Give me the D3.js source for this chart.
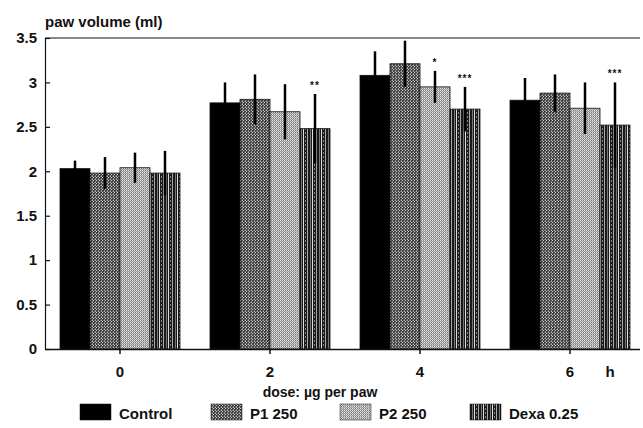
<!DOCTYPE html>
<html><head><meta charset="utf-8">
<script src="https://cdn.jsdelivr.net/npm/d3@7"></script>
<style>body{margin:0;background:#fff}svg{display:block}text{font-family:"Liberation Sans",Arial,sans-serif;font-weight:bold;fill:#111}</style>
</head><body><svg id="c" width="643" height="428"></svg>
<script>
const hours = ["0","2","4","6"];
const series = ["Control","P1 250","P2 250","Dexa 0.25"];
const means = {
  "Control":  [2.03, 2.77, 3.08, 2.80],
  "P1 250":   [1.98, 2.81, 3.21, 2.88],
  "P2 250":   [2.04, 2.67, 2.95, 2.71],
  "Dexa 0.25":[1.98, 2.48, 2.70, 2.52]
};
const errs = {
  "Control":  [0.09, 0.23, 0.27, 0.25],
  "P1 250":   [0.18, 0.28, 0.26, 0.21],
  "P2 250":   [0.17, 0.31, 0.18, 0.29],
  "Dexa 0.25":[0.25, 0.39, 0.25, 0.48]
};
const stars = [
  {hour:"2", s:"Dexa 0.25", t:"**"},
  {hour:"4", s:"P2 250", t:"*"},
  {hour:"4", s:"Dexa 0.25", t:"***"},
  {hour:"6", s:"Dexa 0.25", t:"***"}
];
const yTicks = [0,0.5,1,1.5,2,2.5,3,3.5];

const svg = d3.select("#c");
const defs = svg.append("defs");
function pat(id,w,h,bg,cells){
  const p = defs.append("pattern").attr("id",id).attr("patternUnits","userSpaceOnUse").attr("width",w).attr("height",h);
  p.append("rect").attr("width",w).attr("height",h).attr("fill",bg);
  cells.forEach(c=>p.append("rect").attr("x",c[0]).attr("y",c[1]).attr("width",c[2]).attr("height",c[3]).attr("fill",c[4]));
}
pat("pP1",3,3,"#404040",[[0,0,1,1,"#cfcfcf"],[2,1,1,1,"#8a8a8a"],[1,2,1,1,"#6a6a6a"],[2,2,1,1,"#b0b0b0"]]);
pat("pP2",2,2,"#9a9a9a",[[0,0,1,1,"#e6e6e6"],[1,1,1,1,"#c2c2c2"],[1,0,1,1,"#7a7a7a"]]);
pat("pDX",9,4,"#1a1a1a",[[1,0,1,4,"#aaa"],[4,0,1,4,"#777"],[6,0,1,4,"#ddd"],[8,0,1,2,"#888"]]);
const fills = {"Control":"#000","P1 250":"url(#pP1)","P2 250":"url(#pP2)","Dexa 0.25":"url(#pDX)"};

const x = d3.scaleBand().domain(hours).range([45,645]).paddingInner(0.2).paddingOuter(0.1);
const xs = d3.scaleBand().domain(series).range([0,x.bandwidth()]);
const y = d3.scaleLinear().domain([0,3.5]).range([349,38]);

const g = svg.append("g");
hours.forEach((h,i)=>{
  series.forEach(s=>{
    g.append("rect").attr("x",x(h)+xs(s)).attr("y",y(means[s][i]))
      .attr("width",xs.bandwidth()).attr("height",y(0)-y(means[s][i]))
      .attr("fill",fills[s]).attr("stroke","#111").attr("stroke-width",0.8);
  });
});
hours.forEach((h,i)=>{
  series.forEach(s=>{
    const cx = x(h)+xs(s)+xs.bandwidth()/2;
    g.append("line").attr("x1",cx).attr("x2",cx)
      .attr("y1",y(means[s][i]+errs[s][i])).attr("y2",y(means[s][i]-errs[s][i]))
      .attr("stroke","#000").attr("stroke-width",2.5);
  });
});
stars.forEach(d=>{
  const i = hours.indexOf(d.hour);
  const cx = x(d.hour)+xs(d.s)+xs.bandwidth()/2;
  svg.append("text").attr("x",cx).attr("y",y(means[d.s][i]+errs[d.s][i])-5)
    .attr("text-anchor","middle").attr("font-size",10).attr("letter-spacing",1).text(d.t);
});

const yAxis = d3.axisLeft(y).tickValues(yTicks).tickSizeInner(-5).tickSizeOuter(0).tickPadding(8)
  .tickFormat(d=>String(d));
const ya = svg.append("g").attr("transform","translate(45,0)").call(yAxis);
ya.selectAll("text").attr("font-size",15).style("font-weight","bold");
ya.selectAll("line,path").attr("stroke","#111").attr("stroke-width",1.2);

const xAxis = d3.axisBottom(x).tickSizeInner(5).tickSizeOuter(0).tickPadding(12);
const xa = svg.append("g").attr("transform","translate(0,349)").call(xAxis);
xa.select(".domain").attr("d","M45,0.5H640");
xa.selectAll("text").attr("font-size",15).style("font-weight","bold");
xa.selectAll("line,path").attr("stroke","#111").attr("stroke-width",1.5);
svg.append("line").attr("x1",45).attr("x2",640).attr("y1",38).attr("y2",38).attr("stroke","#111").attr("stroke-width",1.2);

svg.append("text").attr("x",x("6")+x.bandwidth()/2+40).attr("y",377).attr("font-size",15).attr("text-anchor","middle").text("h");
svg.append("text").attr("x",45).attr("y",27).attr("font-size",15).text("paw volume (ml)");
svg.append("text").attr("x",320).attr("y",397).attr("font-size",14).attr("text-anchor","middle").text("dose: µg per paw");

const legX = [80,211,340,470];
series.forEach((s,i)=>{
  svg.append("rect").attr("x",legX[i]).attr("y",404).attr("width",31).attr("height",16).attr("fill",fills[s]).attr("stroke","#111").attr("stroke-width",0.5);
  svg.append("text").attr("x",legX[i]+39).attr("y",419).attr("font-size",15).text(s);
});
</script></body></html>
